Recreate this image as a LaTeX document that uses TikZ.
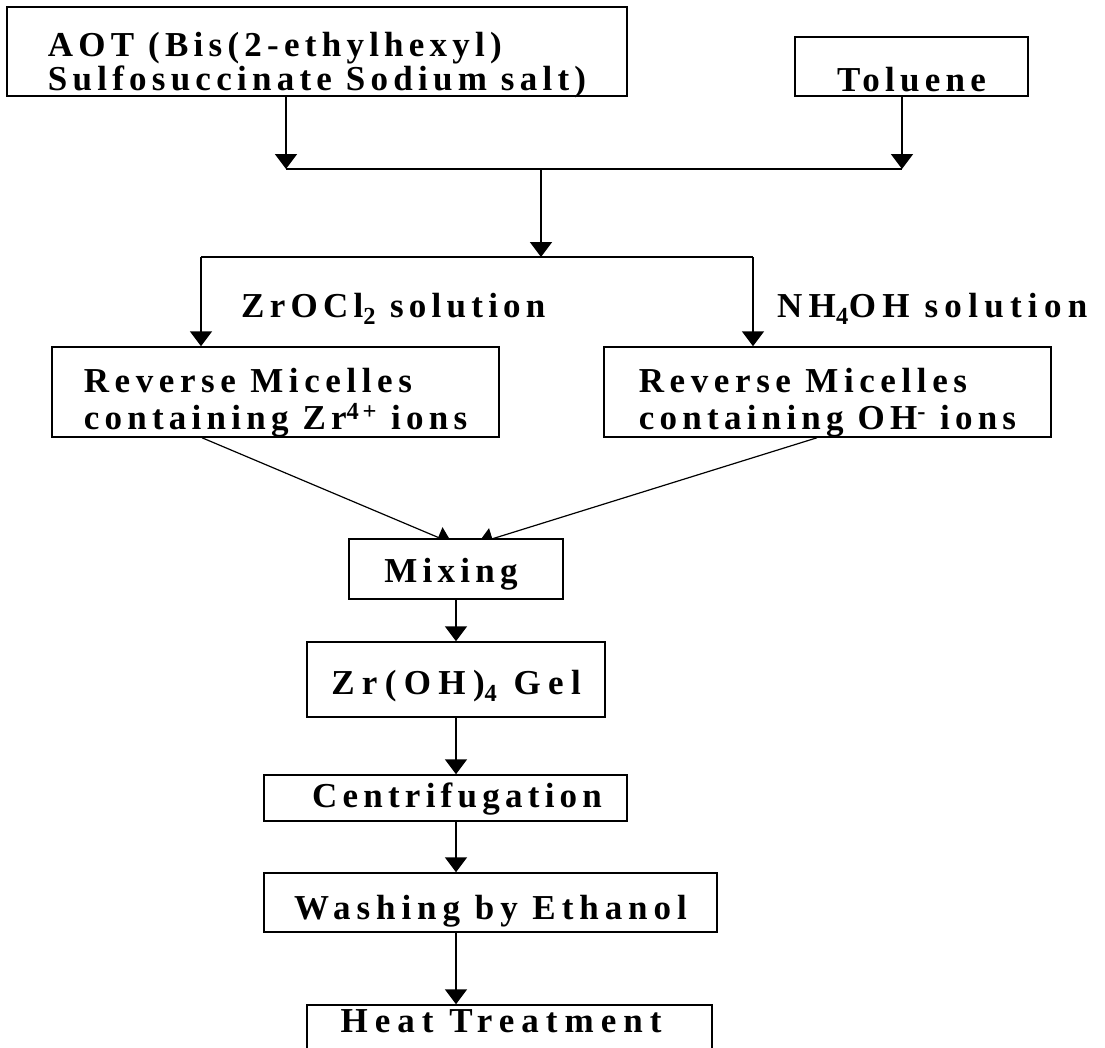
\documentclass[tikz,border=0pt]{standalone}
\usepackage{fontspec}
\newfontfamily\flowfont{Liberation Serif}[LetterSpace=15]
\usetikzlibrary{arrows.meta, calc, backgrounds}

\newcommand{\spaced}[1]{\addfontfeature{LetterSpace=#1}}

\begin{document}
\begin{tikzpicture}[
    x=1pt, y=-1pt,
    font=\flowfont\bfseries\fontsize{35}{34}\selectfont,
    stepbox/.style={rectangle, draw=black, line width=1.5pt, fill=white, inner sep=0pt},
    twoline/.style={stepbox, align=left, font=\flowfont\bfseries\fontsize{35}{37}\selectfont},
    arrow/.style={-{Triangle[width=22pt,length=15pt]}, line width=1.8pt},
    link/.style={line width=1.2pt}
]
\useasboundingbox (0,0) rectangle (1105,1047);

\node[stepbox, align=left, minimum width=620pt, minimum height=89pt, text height=83pt, text depth=6pt] (aot) at (317,51.5) {AOT (Bis(2-ethylhexyl)\\Sulfosuccinate Sodium salt)};
\node[stepbox, minimum width=233pt, minimum height=59pt, text height=54pt, text depth=5pt] (toluene) at (911.5,66.5) {Toluene};

\coordinate (jAOT) at (286,169);
\coordinate (jTol) at (902,169);
\coordinate (jMid) at (541,169);
\coordinate (split) at (541,257);
\coordinate (sL) at (201,257);
\coordinate (sR) at (753,257);

\node[anchor=base west, inner sep=0pt] (zrsol) at (241,317) {ZrOCl\textsubscript{2} solution};
\node[anchor=base west, inner sep=0pt] (nhsol) at (777,317) {\spaced{18}NH\textsubscript{4}OH solution};

\node[twoline, minimum width=447pt, minimum height=90pt, text height=82pt, text depth=8pt] (micZr) at (275.5,392) {\spaced{16}Reverse Micelles\\containing Zr\textsuperscript{4+} ions};
\node[twoline, minimum width=447pt, minimum height=90pt, text height=82pt, text depth=8pt] (micOH) at (827.5,392) {\spaced{16}Reverse Micelles\\containing OH\textsuperscript{-} ions};

\node[stepbox, minimum width=214pt, minimum height=60pt, text height=43pt, text depth=17pt] (mixing) at (456,569) {Mixing\hspace*{10pt}};
\node[stepbox, minimum width=298pt, minimum height=75pt, text height=52pt, text depth=23pt] (gel) at (456,679.5) {\spaced{21}Zr(OH)\textsubscript{4} Gel};
\node[stepbox, minimum width=363pt, minimum height=46pt, text height=32pt, text depth=14pt] (centri) at (445.5,798) {\hspace*{23pt}Centrifugation};
\node[stepbox, minimum width=453pt, minimum height=59pt, text height=46pt, text depth=13pt] (washing) at (490.5,902.5) {\spaced{17}Washing by Ethanol};
\node[stepbox, minimum width=405pt, minimum height=56pt, text height=27pt, text depth=29pt] (heat) at (509.5,1033) {\spaced{20}Heat Treatment\hspace*{17pt}};

\draw[arrow] (aot.south -| jAOT) -- (jAOT);
\draw[arrow] (toluene.south -| jTol) -- (jTol);
\draw[link] (jAOT) -- (jTol);
\draw[arrow] (jMid) -- (split);
\draw[link] (sL) -- (sR);
\draw[arrow] (sL) -- (sL |- micZr.north);
\draw[arrow] (sR) -- (sR |- micOH.north);

\begin{scope}[on background layer]
\draw[arrow, line width=1.2pt] ($(micZr.south)+(-73.5,0)$) -- ($(mixing.north)+(-4,5)$);
\draw[arrow, line width=1.2pt] ($(micOH.south)+(-10.5,0)$) -- ($(mixing.north)+(22,5)$);
\end{scope}

\draw[arrow] (mixing) -- (gel);
\draw[arrow] (gel.south) -- (gel.south |- centri.north);
\draw[arrow] (gel.south |- centri.south) -- (gel.south |- washing.north);
\draw[arrow] (gel.south |- washing.south) -- (gel.south |- heat.north);

\end{tikzpicture}
\end{document}
